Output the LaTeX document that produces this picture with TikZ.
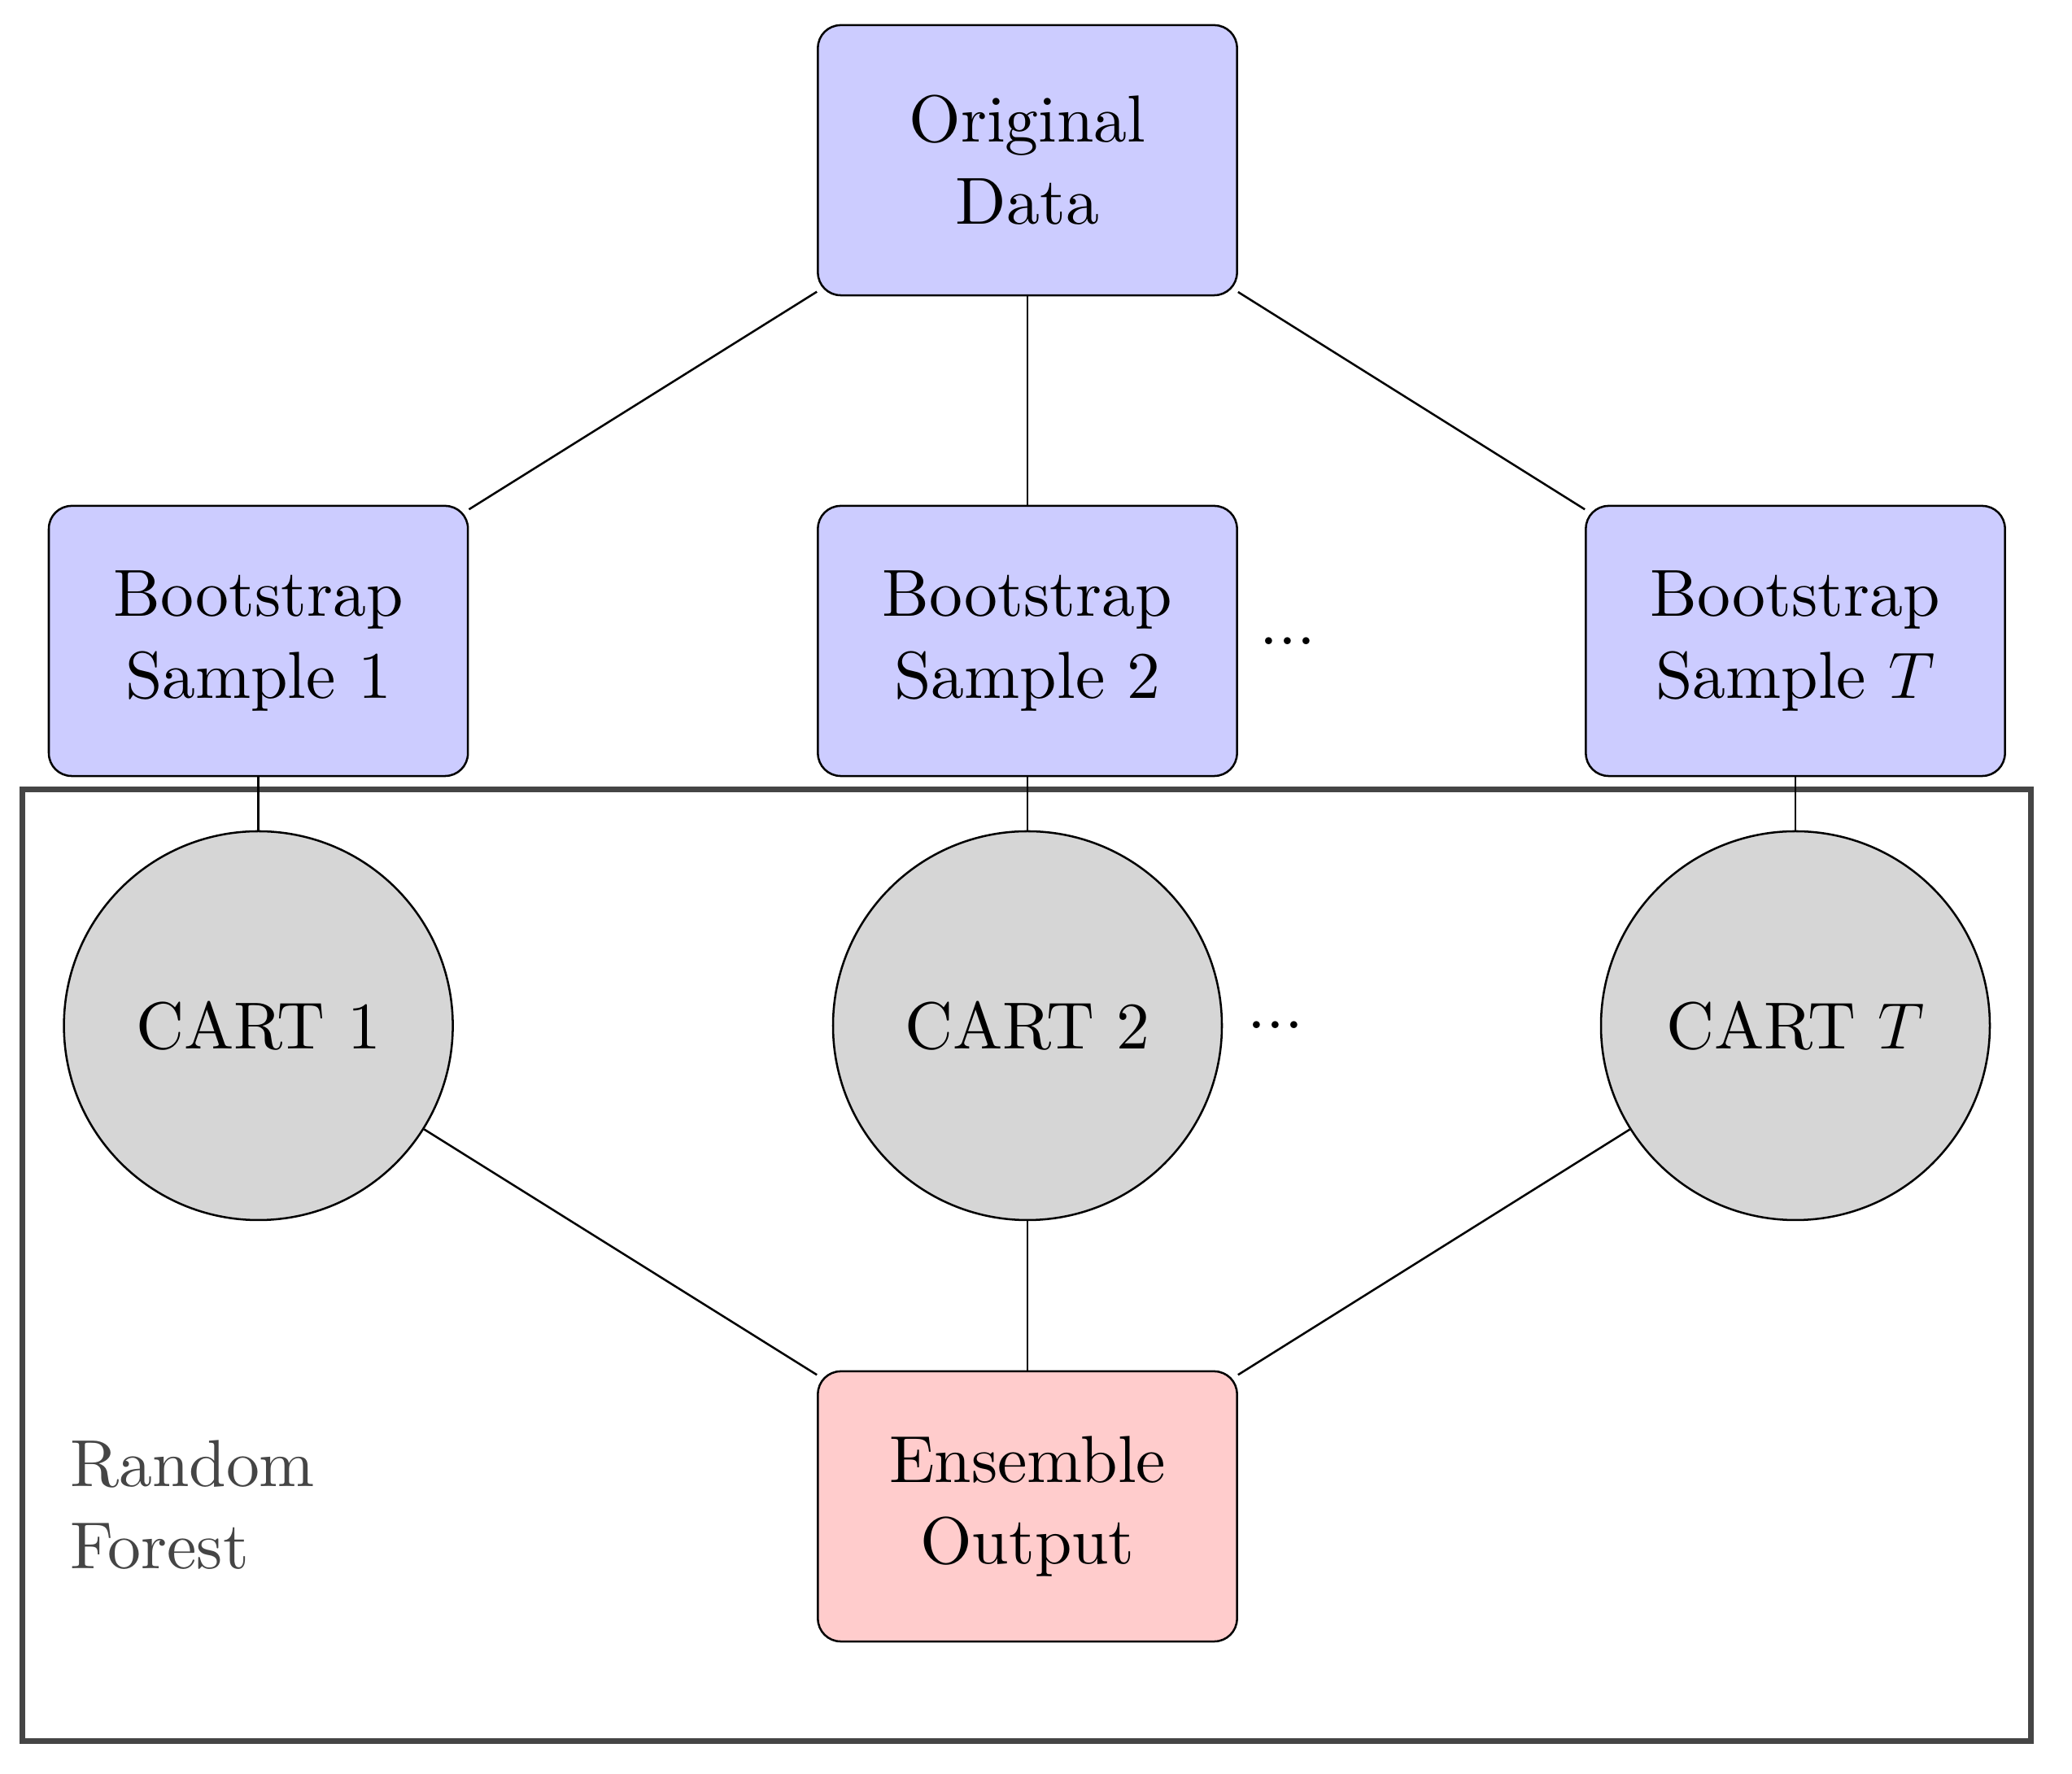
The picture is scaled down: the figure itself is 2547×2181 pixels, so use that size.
\documentclass[tikz,border=0pt]{standalone}
\usepackage{fontspec}
\newfontfamily\lmtn{lmroman10-regular.otf}
\newcommand{\nodefont}{\lmtn\fontsize{14.6}{18}\selectfont}
\begin{document}
\begin{tikzpicture}[x=0.178571pt,y=-0.178571pt,
  box/.style={draw, rounded corners=5pt, minimum width=92pt, minimum height=59.3pt, align=center, font=\nodefont, line width=0.45pt},
  datab/.style={box, fill=blue!20},
  outb/.style={box, fill=red!20},
  cart/.style={circle, draw, fill=black!16, minimum size=3cm, font=\nodefont, line width=0.45pt, inner sep=0pt},
  dotsn/.style={inner sep=0pt, font=\nodefont},
  conn/.style={line width=0.45pt},
  frame/.style={draw=black!73, line width=1.25pt},
  lbl/.style={text=black!73, font=\nodefont, align=left, inner sep=0pt}]
\useasboundingbox (0,0) rectangle (2547,2181);
\draw[frame] (27.5,970.5) rectangle (2496.5,2140.5);
\node[datab] (orig) at (1263,197) {Original\\Data};
\node[datab] (b1) at (317.6,788) {Bootstrap\\Sample 1};
\node[datab] (b2) at (1263,788) {Bootstrap\\Sample 2};
\node[datab] (bT) at (2207,788) {Bootstrap\\Sample $T$};
\node[dotsn] (d1) at (1583,788) {...};
\node[cart] (c1) at (317.6,1261) {CART 1};
\node[cart] (c2) at (1263,1261) {CART 2};
\node[cart] (cT) at (2207,1261) {CART $T$};
\node[dotsn] (d2) at (1568,1260) {...};
\node[outb] (ens) at (1263,1852) {Ensemble\\Output};
\node[lbl, anchor=west] (rf) at (85,1850) {Random\\Forest};
\draw[conn] (orig) -- (b1);
\draw[conn] (orig) -- (b2);
\draw[conn] (orig) -- (bT);
\draw[conn] (b1) -- (c1);
\draw[conn] (b2) -- (c2);
\draw[conn] (bT) -- (cT);
\draw[conn] (c1) -- (ens);
\draw[conn] (c2) -- (ens);
\draw[conn] (cT) -- (ens);
\end{tikzpicture}
\end{document}
